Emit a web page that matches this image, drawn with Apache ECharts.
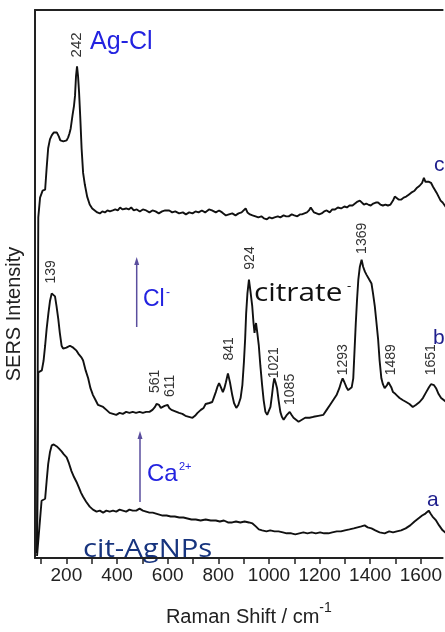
<!DOCTYPE html>
<html><head><meta charset="utf-8">
<script src="https://cdn.jsdelivr.net/npm/echarts@6/dist/echarts.min.js"></script>
<style>html,body{margin:0;padding:0;background:#fff}#c{width:445px;height:632px}</style>
</head><body><div id="c"></div>
<script>
// Raman shift (cm-1) vs SERS intensity (a.u., spectra offset vertically)
const traceA = [[84,2],[102,58],[109,59],[116,60],[122,78],[128,95],[135,107],[142,114],[150,115],[156,114],[162,113],[170,111],[181,108],[190,105],[201,102],[210,96],[220,88],[230,82],[240,77],[250,71],[258,66],[266,62],[278,57],[292,52],[305,49],[319,47],[332,48],[345,46],[358,48],[371,47],[384,48],[397,47],[410,49],[423,48],[436,47],[449,49],[462,48],[476,48],[489,50],[502,48],[515,47],[528,46],[541,46],[554,45],[567,44],[580,43],[596,43],[612,42],[628,42],[646,41],[662,41],[678,40],[694,39],[711,39],[730,38],[750,39],[770,38],[790,38],[806,37],[822,38],[838,36],[855,36],[870,37],[887,36],[904,37],[921,36],[935,35],[948,32],[960,29],[973,28],[990,27],[1005,28],[1022,27],[1038,27],[1055,26],[1070,25],[1088,25],[1104,24],[1120,25],[1136,26],[1152,25],[1169,26],[1185,25],[1202,26],[1218,25],[1235,25],[1250,26],[1268,27],[1284,27],[1300,28],[1318,29],[1335,30],[1350,31],[1365,32],[1378,33],[1390,31],[1405,30],[1420,28],[1437,26],[1457,25],[1475,27],[1490,26],[1505,27],[1522,28],[1540,30],[1558,33],[1575,37],[1590,40],[1605,43],[1618,45],[1631,48],[1638,45],[1646,42],[1660,38],[1672,33],[1686,28],[1700,25]];
const traceB = [[84,5],[89,188],[96,189],[103,190],[110,200],[116,215],[122,232],[129,248],[135,260],[142,268],[148,268],[155,265],[161,255],[168,242],[174,228],[181,215],[187,212],[194,212],[200,213],[207,214],[214,215],[220,214],[227,213],[233,213],[240,210],[247,207],[253,205],[260,203],[266,200],[276,190],[286,182],[295,172],[305,165],[315,160],[325,155],[335,154],[345,153],[358,150],[371,147],[384,146],[397,145],[410,147],[423,146],[436,148],[449,147],[462,148],[475,147],[489,148],[502,147],[515,148],[528,148],[540,150],[550,153],[556,156],[561,158],[566,155],[573,152],[580,152],[588,154],[595,155],[600,155],[606,152],[615,150],[625,149],[635,148],[645,147],[658,146],[670,144],[684,143],[698,142],[708,144],[718,147],[731,150],[742,152],[750,156],[757,155],[765,157],[776,158],[783,163],[790,168],[796,173],[803,177],[810,173],[818,168],[824,172],[830,178],[838,187],[846,178],[855,165],[862,157],[871,152],[879,155],[888,162],[895,175],[901,198],[906,222],[910,248],[915,268],[921,282],[927,270],[934,255],[939,238],[943,228],[946,234],[949,238],[954,228],[960,215],[966,195],[973,175],[979,160],[986,148],[993,145],[1000,145],[1006,153],[1012,165],[1017,176],[1021,182],[1026,178],[1032,172],[1038,160],[1045,148],[1051,143],[1058,140],[1064,142],[1071,145],[1076,147],[1082,148],[1089,145],[1097,142],[1107,140],[1117,138],[1130,140],[1143,142],[1160,142],[1176,143],[1195,144],[1215,145],[1228,150],[1241,155],[1254,160],[1267,165],[1278,172],[1285,178],[1291,182],[1298,178],[1306,173],[1313,170],[1320,168],[1327,173],[1333,182],[1338,210],[1343,238],[1348,262],[1353,282],[1359,295],[1366,302],[1372,295],[1379,290],[1385,287],[1388,285],[1396,282],[1405,278],[1411,268],[1418,255],[1424,240],[1431,222],[1437,200],[1444,182],[1450,176],[1457,172],[1466,175],[1472,178],[1477,178],[1483,173],[1490,168],[1500,166],[1508,164],[1516,162],[1528,160],[1542,158],[1555,156],[1568,153],[1580,155],[1595,158],[1608,162],[1621,168],[1632,173],[1640,176],[1644,177],[1652,175],[1660,172],[1670,166],[1680,162],[1700,158]];
const traceC = [[84,5],[89,345],[96,365],[106,372],[116,373],[122,395],[128,415],[135,424],[142,428],[150,431],[156,432],[162,431],[170,427],[176,423],[181,422],[188,422],[195,423],[201,423],[207,426],[212,430],[217,435],[224,448],[230,458],[234,468],[238,488],[242,498],[246,488],[250,472],[255,445],[260,415],[266,390],[273,378],[282,366],[292,358],[302,354],[312,352],[322,350],[332,349],[342,351],[352,350],[362,352],[372,351],[383,352],[393,353],[403,352],[412,355],[422,353],[436,354],[446,353],[456,355],[466,352],[478,353],[490,351],[502,353],[515,352],[528,350],[540,352],[552,351],[565,349],[578,351],[590,352],[606,352],[618,350],[630,351],[645,349],[660,350],[672,348],[685,350],[698,349],[710,351],[722,350],[735,352],[748,350],[763,353],[775,352],[790,350],[803,352],[815,350],[830,347],[842,348],[855,349],[868,347],[880,349],[892,350],[900,352],[908,354],[915,350],[925,348],[935,347],[947,346],[958,345],[970,346],[980,344],[992,343],[1002,345],[1012,344],[1022,345],[1035,346],[1045,345],[1058,347],[1068,346],[1078,346],[1090,348],[1100,347],[1112,346],[1122,348],[1130,348],[1140,349],[1150,350],[1158,352],[1165,355],[1170,354],[1178,350],[1188,349],[1198,348],[1208,349],[1218,351],[1228,352],[1240,350],[1250,353],[1261,353],[1272,355],[1285,354],[1298,356],[1308,355],[1318,357],[1330,357],[1340,359],[1350,361],[1359,362],[1366,360],[1375,358],[1384,359],[1392,358],[1402,357],[1412,359],[1422,360],[1431,360],[1440,358],[1450,357],[1460,358],[1470,357],[1480,358],[1490,362],[1497,366],[1503,364],[1512,363],[1523,363],[1532,365],[1542,366],[1552,368],[1562,370],[1575,372],[1585,375],[1595,377],[1605,380],[1612,385],[1618,381],[1625,382],[1632,381],[1640,380],[1648,376],[1655,374],[1662,370],[1670,366],[1678,362],[1686,360],[1700,355]];

const xTickValues = [100,200,300,400,500,600,700,800,900,1000,1100,1200,1300,1400,1500,1600];
const xLabelValues = [200,400,600,800,1000,1200,1400,1600];

// peak annotations: text, x position (cm-1), bottom of label (intensity units)
const peakText = ['242','139','561','611','841','924','1021','1085','1293','1369','1489','1651'];
const peakX    = [242, 139, 550, 611, 841, 924, 1021, 1085, 1293, 1369, 1482, 1640];
const peakY    = [507, 278, 167, 163, 200, 292, 182, 155, 185, 308, 185, 185];

const SANS = '"Liberation Sans", Arial, sans-serif';
const chart = echarts.init(document.getElementById('c'));
chart.setOption({
  animation: false,
  grid: {left: 35, right: 0, top: 10, bottom: 67, show: false},
  xAxis: [{
    type: 'value', min: 76, max: 1686, position: 'bottom',
    axisLine: {show: true, onZero: false, lineStyle: {color: '#222', width: 2}},
    axisTick: {show: true, customValues: xTickValues, length: 6, lineStyle: {color: '#222', width: 1.5}},
    axisLabel: {customValues: xLabelValues, formatter: v => String(v), fontSize: 19, color: '#222', fontFamily: SANS, margin: 8},
    splitLine: {show: false},
    name: '{m|Raman Shift / cm}{s|-1}', nameLocation: 'middle', nameGap: 43,
    nameTextStyle: {padding: [0, 0, 0, 20], rich: {
      m: {fontSize: 20, fontFamily: SANS, color: '#222', lineHeight: 26, verticalAlign: 'bottom'},
      s: {fontSize: 14, fontFamily: SANS, color: '#222', lineHeight: 26, verticalAlign: 'top'}
    }}
  }, {
    type: 'value', min: 76, max: 1686, position: 'top',
    axisLine: {show: true, onZero: false, lineStyle: {color: '#222', width: 2}},
    axisTick: {show: false}, axisLabel: {show: false}, splitLine: {show: false}
  }],
  yAxis: {
    type: 'value', min: 0, max: 555,
    axisLine: {show: true, onZero: false, lineStyle: {color: '#222', width: 2}},
    axisTick: {show: false}, axisLabel: {show: false}, splitLine: {show: false}
  },
  series: [traceA, traceB, traceC].map((d, i) => ({
    type: 'line', name: ['a','b','c'][i], data: d, showSymbol: false, symbol: 'none',
    lineStyle: {color: '#111', width: 1.9}, z: 3
  }))
});

const blue = '#2323e0', navy = '#1e1e8c', arrowCol = '#5a4e9e';
const g = [];
peakText.forEach((t, i) => {
  const p = chart.convertToPixel({xAxisIndex: 0, yAxisIndex: 0}, [peakX[i], peakY[i]]);
  g.push({type: 'text', x: p[0], y: p[1], rotation: Math.PI / 2, z: 10,
    style: {text: t, fontSize: t === '242' ? 15 : 14, fontFamily: SANS, fill: '#333', align: 'left', verticalAlign: 'middle'}});
});
g.push(
  {type: 'text', x: 14, y: 314, rotation: Math.PI / 2, style: {text: 'SERS Intensity', fontSize: 20, fontFamily: SANS, fill: '#222', align: 'center', verticalAlign: 'middle'}},
  {type: 'text', x: 90, y: 42, style: {text: 'Ag-Cl', fontSize: 25, fontFamily: SANS, fill: blue, align: 'left', verticalAlign: 'middle'}},
  {type: 'text', x: 434, y: 165.5, style: {text: 'c', fontSize: 21, fontFamily: SANS, fill: navy, align: 'left', verticalAlign: 'middle'}},
  {type: 'text', x: 433, y: 338, style: {text: 'b', fontSize: 21, fontFamily: SANS, fill: navy, align: 'left', verticalAlign: 'middle'}},
  {type: 'text', x: 427, y: 500.5, style: {text: 'a', fontSize: 21, fontFamily: SANS, fill: navy, align: 'left', verticalAlign: 'middle'}},
  {type: 'text', x: 143, y: 300, style: {text: 'Cl', fontSize: 23, fontFamily: SANS, fill: blue, align: 'left', verticalAlign: 'middle'}},
  {type: 'text', x: 166, y: 293, style: {text: '-', fontSize: 12, fontFamily: SANS, fill: blue, align: 'left', verticalAlign: 'middle'}},
  {type: 'text', x: 147, y: 474, style: {text: 'Ca', fontSize: 24, fontFamily: SANS, fill: blue, align: 'left', verticalAlign: 'middle'}},
  {type: 'text', x: 179, y: 467, style: {text: '2+', fontSize: 11, fontFamily: SANS, fill: blue, align: 'left', verticalAlign: 'middle'}},
  {type: 'text', x: 254, y: 294, scaleX: 1.19, style: {text: 'citrate', fontSize: 25, fontFamily: '"Open Sans", sans-serif', fill: '#111', align: 'left', verticalAlign: 'middle'}},
  {type: 'text', x: 347, y: 286, style: {text: '-', fontSize: 13, fontFamily: '"Open Sans", sans-serif', fill: '#111', align: 'left', verticalAlign: 'middle'}},
  {type: 'text', x: 83, y: 549.5, scaleX: 1.19, style: {text: 'cit-AgNPs', fontSize: 24.6, fontFamily: '"Open Sans", sans-serif', fill: '#17347e', align: 'left', verticalAlign: 'middle'}},
  {type: 'line', shape: {x1: 136.7, y1: 327, x2: 136.7, y2: 262}, style: {stroke: arrowCol, lineWidth: 1.5}},
  {type: 'polygon', shape: {points: [[136.7, 257], [134.2, 265], [139.2, 265]]}, style: {fill: arrowCol}},
  {type: 'line', shape: {x1: 140, y1: 502, x2: 140, y2: 436}, style: {stroke: arrowCol, lineWidth: 1.5}},
  {type: 'polygon', shape: {points: [[140, 431], [137.5, 439], [142.5, 439]]}, style: {fill: arrowCol}}
);
chart.setOption({graphic: g});
</script>
</body></html>
